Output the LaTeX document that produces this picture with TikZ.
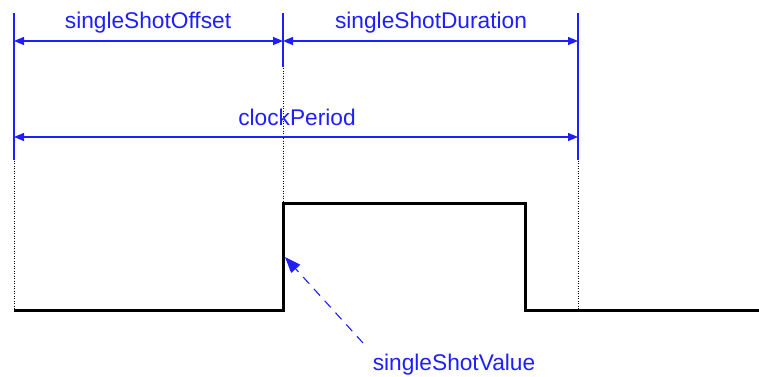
\documentclass[tikz,border=0pt]{standalone}
\usepackage{fontspec}
\setmainfont{Liberation Sans}
\usetikzlibrary{arrows.meta}
\definecolor{dimblue}{RGB}{30,30,255}
\tikzset{
  lbl/.style={text=dimblue, font=\fontsize{22.7}{27}\selectfont, inner sep=0pt, anchor=base},
  dimarrow/.style={draw=dimblue, line width=1.3pt, {Triangle[length=10pt,width=8pt]}-{Triangle[length=10pt,width=8pt]}},
  extline/.style={draw=dimblue, line width=1.1pt},
  guide/.style={draw=black, line width=1pt, dash pattern=on 1pt off 1.5pt},
  wave/.style={draw=black, line width=3pt, line join=miter},
  pointer/.style={draw=dimblue, line width=1.1pt, dash pattern=on 9pt off 7pt, -{Triangle[length=16pt,width=12pt]}}
}
\begin{document}
\begin{tikzpicture}[x=1pt,y=-1pt]
\useasboundingbox (0,0) rectangle (759,376);
% coordinates
\coordinate (g0t) at (14,13);
\coordinate (g0b) at (14,310);
\coordinate (g1t) at (283,13);
\coordinate (g1b) at (283,203);
\coordinate (g2t) at (578,13);
\coordinate (g2b) at (578,310);
% guides
\draw[guide] (g0t) -- (g0b);
\draw[guide] (g1t) -- (g1b);
\draw[guide] (g2t) -- (g2b);
% extension lines
\coordinate (e0b) at (14,160);
\coordinate (e1b) at (283,67);
\coordinate (e2b) at (578,160);
\draw[extline] (g0t) -- (e0b);
\draw[extline] (g1t) -- (e1b);
\draw[extline] (g2t) -- (e2b);
% dimension arrows
\coordinate (a0) at (14,41);
\coordinate (a1) at (283,41);
\coordinate (a2) at (578,41);
\coordinate (c0) at (14,137);
\coordinate (c2) at (578,137);
\draw[dimarrow] (a0) -- (a1);
\draw[dimarrow] (a1) -- (a2);
\draw[dimarrow] (c0) -- (c2);
% labels
\node[lbl] (off) at (148,28) {singleShotOffset};
\node[lbl] (dur) at (431,28) {singleShotDuration};
\node[lbl] (clk) at (297,125) {clockPeriod};
\node[lbl] (val) at (454,370) {singleShotValue};
% waveform
\coordinate (w0) at (14,310);
\coordinate (w1) at (283,310);
\coordinate (w2) at (283,203);
\coordinate (w3) at (525,203);
\coordinate (w4) at (525,310);
\coordinate (w5) at (759,310);
\draw[wave] (w0) -- (w1) -- (w2) -- (w3) -- (w4) -- (w5);
% pointer
\coordinate (ptail) at (363,343);
\coordinate (ptip) at (285,257);
\draw[pointer] (ptail) -- (ptip);
\end{tikzpicture}
\end{document}
